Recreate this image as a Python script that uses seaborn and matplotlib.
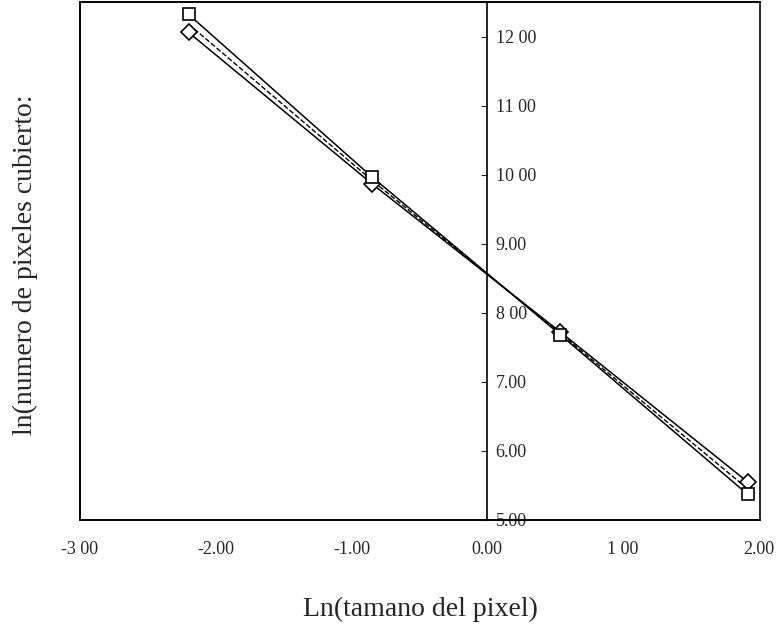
import matplotlib
matplotlib.use("Agg")
import matplotlib.pyplot as plt
import seaborn as sns
import pandas as pd
from matplotlib.patches import Rectangle

ln_size = [-2.20, -0.85, 0.54, 1.92]
series_sq = [12.32, 9.97, 7.68, 5.37]
series_di = [12.06, 9.87, 7.72, 5.55]
series_mid = [12.18, 9.92, 7.70, 5.45]
x_ticks = [-3, -2, -1, 0, 1, 2]
x_tick_labels = ["-3 00", "-2.00", "-1.00", "0.00", "1 00", "2.00"]
y_ticks = [5, 6, 7, 8, 9, 10, 11, 12]
y_tick_labels = ["5.00", "6.00", "7.00", "8 00", "9.00", "10 00", "11 00", "12 00"]

df = pd.DataFrame({
    "x": ln_size * 3,
    "y": series_sq + series_di + series_mid,
    "s": ["sq"] * 4 + ["di"] * 4 + ["mid"] * 4,
})

sns.set_style("white")
plt.rcParams["font.family"] = ["Liberation Serif", "DejaVu Serif"]

fig = plt.figure(figsize=(7.81, 6.25), dpi=100)
ax = fig.add_axes([80 / 781, 1 - 520 / 625, (760 - 80) / 781, 518 / 625])

sns.lineplot(data=df[df.s == "mid"], x="x", y="y", ax=ax, color="black",
             lw=1.0, linestyle="--", legend=False)
sns.lineplot(data=df[df.s == "di"], x="x", y="y", ax=ax, color="black",
             lw=1.1, marker="D", markersize=8, markerfacecolor="white",
             markeredgecolor="black", markeredgewidth=1.2, legend=False)
sns.lineplot(data=df[df.s == "sq"], x="x", y="y", ax=ax, color="black",
             lw=1.1, marker="s", markersize=8, markerfacecolor="white",
             markeredgecolor="black", markeredgewidth=1.2, legend=False)

ax.set_xlim(-3, 2.01)
ax.set_ylim(5, 12.5)

# y axis spine through x = 0, labels to the right
ax.spines["left"].set_visible(True)
ax.spines["right"].set_position(("data", 0))
ax.yaxis.tick_right()
ax.set_yticks(y_ticks)
ax.set_yticklabels(y_tick_labels, fontsize=13)
ax.tick_params(axis="y", direction="in", length=4, pad=6)
ax.set_xticks(x_ticks)
ax.set_xticklabels(x_tick_labels, fontsize=13)
ax.tick_params(axis="x", direction="out", length=4, pad=11, top=False)
for sp in ax.spines.values():
    sp.set_color("black")
    sp.set_linewidth(1.2)
ax.add_patch(Rectangle((0, 0), 1, 1, transform=ax.transAxes, fill=False,
                       edgecolor="black", lw=1.2, clip_on=False))

ax.set_xlabel("Ln(tamano del pixel)", fontsize=20, labelpad=28)
ax.set_ylabel("")
fig.text(25 / 781, 1 - 265 / 625, "ln(numero de pixeles cubierto:", rotation=90,
         fontsize=20, ha="center", va="center")

fig.savefig("out.png", dpi=100)
